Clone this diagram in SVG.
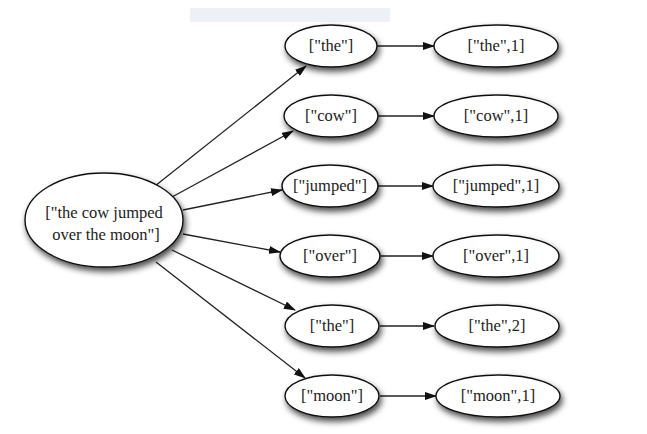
<svg xmlns="http://www.w3.org/2000/svg" width="647" height="434" viewBox="0 0 647 434">
<defs>
<filter id="sh" x="-20%" y="-20%" width="150%" height="170%">
<feDropShadow dx="2" dy="4" stdDeviation="3" flood-color="#000" flood-opacity="0.7"/>
</filter>
<marker id="ah" markerWidth="12" markerHeight="8" refX="11" refY="4" orient="auto" markerUnits="userSpaceOnUse">
<path d="M0,0 L12,4 L0,8 Z" fill="#111"/>
</marker>
<style>
.n ellipse{fill:#fff;stroke:#111;stroke-width:1.4;filter:url(#sh)}
.n text{font-family:"Liberation Serif","Times New Roman",serif;font-size:16.5px;fill:#222;text-anchor:middle}
.c line{stroke:#222;stroke-width:1.3;marker-end:url(#ah)}
</style>
</defs>
<rect width="647" height="434" fill="#fff"/>
<rect x="190" y="8" width="200" height="14" fill="#eef0f8"/>
<g class="c" id="connectors">
<line x1="155" y1="186" x2="306" y2="66"/>
<line x1="172" y1="197" x2="293" y2="131"/>
<line x1="183" y1="210" x2="282" y2="190"/>
<line x1="183" y1="234" x2="280" y2="252"/>
<line x1="172" y1="250" x2="295" y2="310"/>
<line x1="156" y1="262" x2="305" y2="378"/>
<line x1="377" y1="46" x2="434" y2="46"/>
<line x1="378" y1="116" x2="434" y2="116"/>
<line x1="378" y1="186" x2="433" y2="186"/>
<line x1="380" y1="256" x2="433" y2="256"/>
<line x1="380" y1="326" x2="434" y2="326"/>
<line x1="380" y1="396" x2="436" y2="396"/>
</g>
<g class="n" id="n0"><ellipse cx="104" cy="220" rx="79" ry="47"/><text x="104" y="218">["the cow jumped</text><text x="106" y="240">over the moon"]</text></g>
<g class="n" id="m1"><ellipse cx="331" cy="46" rx="46" ry="21"/><text x="331" y="51">["the"]</text></g>
<g class="n" id="m2"><ellipse cx="331" cy="116" rx="47" ry="21"/><text x="331" y="121">["cow"]</text></g>
<g class="n" id="m3"><ellipse cx="330" cy="186" rx="48" ry="21"/><text x="330" y="191">["jumped"]</text></g>
<g class="n" id="m4"><ellipse cx="330" cy="256" rx="50" ry="21"/><text x="330" y="261">["over"]</text></g>
<g class="n" id="m5"><ellipse cx="332" cy="326" rx="47" ry="21"/><text x="332" y="331">["the"]</text></g>
<g class="n" id="m6"><ellipse cx="332" cy="396" rx="47" ry="21"/><text x="332" y="401">["moon"]</text></g>
<g class="n" id="r1"><ellipse cx="496" cy="46" rx="62" ry="21"/><text x="496" y="51">["the",1]</text></g>
<g class="n" id="r2"><ellipse cx="496" cy="116" rx="62" ry="21"/><text x="496" y="121">["cow",1]</text></g>
<g class="n" id="r3"><ellipse cx="496" cy="186" rx="63" ry="21"/><text x="496" y="191">["jumped",1]</text></g>
<g class="n" id="r4"><ellipse cx="496" cy="256" rx="63" ry="21"/><text x="496" y="261">["over",1]</text></g>
<g class="n" id="r5"><ellipse cx="497" cy="326" rx="62" ry="21"/><text x="497" y="331">["the",2]</text></g>
<g class="n" id="r6"><ellipse cx="498" cy="396" rx="62" ry="21"/><text x="498" y="401">["moon",1]</text></g>
</svg>
